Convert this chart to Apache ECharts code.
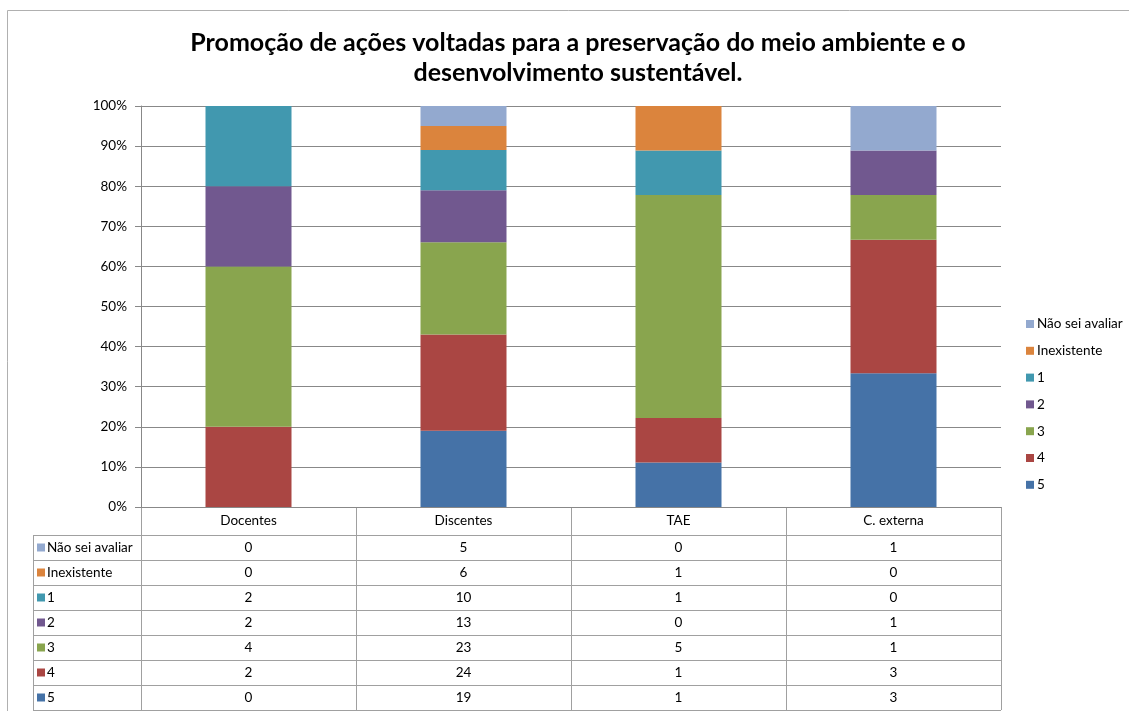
<!DOCTYPE html>
<html><head><meta charset="utf-8">
<script src="https://cdn.jsdelivr.net/npm/echarts@6/dist/echarts.min.js"></script>
<style>html,body{margin:0;padding:0;background:#fff}#c{width:1129px;height:711px}</style>
</head><body><div id="c"></div>
<script>
const categories = ['Docentes', 'Discentes', 'TAE', 'C. externa'];
const seriesNames = ['Não sei avaliar', 'Inexistente', '1', '2', '3', '4', '5'];
const naoSei = [0, 5, 0, 1];
const inexistente = [0, 6, 1, 0];
const v1 = [2, 10, 1, 0];
const v2 = [2, 13, 0, 1];
const v3 = [4, 23, 5, 1];
const v4 = [2, 24, 1, 3];
const v5 = [0, 19, 1, 3];
const yTicks = [0, 10, 20, 30, 40, 50, 60, 70, 80, 90, 100];
const titleText = 'Promoção de ações voltadas para a preservação do meio ambiente e o\ndesenvolvimento sustentável.';

const rows = [naoSei, inexistente, v1, v2, v3, v4, v5];
const colors = ['#93A9CF', '#DB843D', '#4198AF', '#71588F', '#89A54E', '#AA4643', '#4572A7'];
const totals = categories.map((c, i) => rows.reduce((s, r) => s + r[i], 0));

const font = 'Lato, "Noto Sans", sans-serif';
const fs = 13.5;
const chart = echarts.init(document.getElementById('c'));

// stack order: 5 at bottom
const series = [];
for (let k = rows.length - 1; k >= 0; k--) {
  series.push({
    name: seriesNames[k], type: 'bar', stack: 'all', barWidth: 86,
    itemStyle: { color: colors[k] },
    data: rows[k].map((v, i) => v / totals[i] * 100)
  });
}

chart.setOption({
  animation: false,
  backgroundColor: '#fff',
  textStyle: { fontFamily: font },
  title: {
    text: titleText, left: 573, top: 23, textAlign: 'center',
    textStyle: { fontFamily: font, fontSize: 25, fontWeight: 'bold', color: '#000', lineHeight: 30 }
  },
  legend: {
    orient: 'vertical', left: 1021, top: 312, itemGap: 12.8,
    itemWidth: 8, itemHeight: 8, icon: 'rect',
    data: seriesNames,
    textStyle: { fontFamily: font, fontSize: fs, lineHeight: 14, color: '#000', padding: [0, 0, 0, -2] }
  },
  grid: { left: 141, right: 128, top: 106, bottom: 204, containLabel: false },
  xAxis: {
    type: 'category', data: categories,
    axisLine: { lineStyle: { color: '#888' } },
    axisTick: { show: false },
    axisLabel: { margin: 7, fontSize: fs, color: '#000', fontFamily: font }
  },
  yAxis: {
    type: 'value', min: yTicks[0], max: yTicks[yTicks.length - 1], interval: 10,
    axisLine: { show: true, lineStyle: { color: '#888' } },
    axisTick: { show: true, length: 6, lineStyle: { color: '#888' } },
    axisLabel: { formatter: '{value}%', fontSize: fs, color: '#000', margin: 14, fontFamily: font },
    splitLine: { lineStyle: { color: '#888' } }
  },
  series: series
});

// Build data table graphics from the axis positions
const lineColor = '#a0a0a0';
const x0 = chart.convertToPixel({ xAxisIndex: 0 }, categories[0]);
const x1 = chart.convertToPixel({ xAxisIndex: 0 }, categories[1]);
const band = x1 - x0;
const leftEdge = x0 - band / 2;
const rightEdge = leftEdge + band * categories.length;
const yBase = chart.convertToPixel({ yAxisIndex: 0 }, 0);
const headerH = 28, rowH = 25;
const tableLeft = 33;
const tableTop = yBase + headerH;
const tableBottom = tableTop + rowH * rows.length;
const g = [];
// outer frame
g.push({ type: 'rect', shape: { x: 7.5, y: 10.5, width: 1130, height: 710 }, style: { fill: null, stroke: '#b0b0b0', lineWidth: 1 }, silent: true });
// vertical lines
for (let i = 0; i <= categories.length; i++) {
  const x = Math.round(leftEdge + band * i) + 0.5;
  g.push({ type: 'line', shape: { x1: x, y1: yBase, x2: x, y2: tableBottom }, style: { stroke: lineColor, lineWidth: 1 } });
}
g.push({ type: 'line', shape: { x1: tableLeft + 0.5, y1: tableTop, x2: tableLeft + 0.5, y2: tableBottom }, style: { stroke: lineColor, lineWidth: 1 } });
// horizontal lines
for (let r = 0; r <= rows.length; r++) {
  const y = Math.round(tableTop + rowH * r) + 0.5;
  g.push({ type: 'line', shape: { x1: tableLeft, y1: y, x2: rightEdge, y2: y }, style: { stroke: lineColor, lineWidth: 1 } });
}
// row headers and cells
rows.forEach((row, r) => {
  const yc = tableTop + rowH * r + rowH / 2;
  g.push({ type: 'rect', shape: { x: 37, y: yc - 4, width: 8, height: 8 }, style: { fill: colors[r] } });
  g.push({ type: 'text', x: 47, y: yc, style: { text: seriesNames[r], fill: '#000', fontSize: fs, fontFamily: font, verticalAlign: 'middle', align: 'left' } });
  row.forEach((v, i) => {
    const xc = chart.convertToPixel({ xAxisIndex: 0 }, categories[i]);
    g.push({ type: 'text', x: xc, y: yc, style: { text: String(v), fill: '#000', fontSize: fs, fontFamily: font, verticalAlign: 'middle', align: 'center' } });
  });
});
chart.setOption({ graphic: { elements: g } });
</script>
</body></html>
